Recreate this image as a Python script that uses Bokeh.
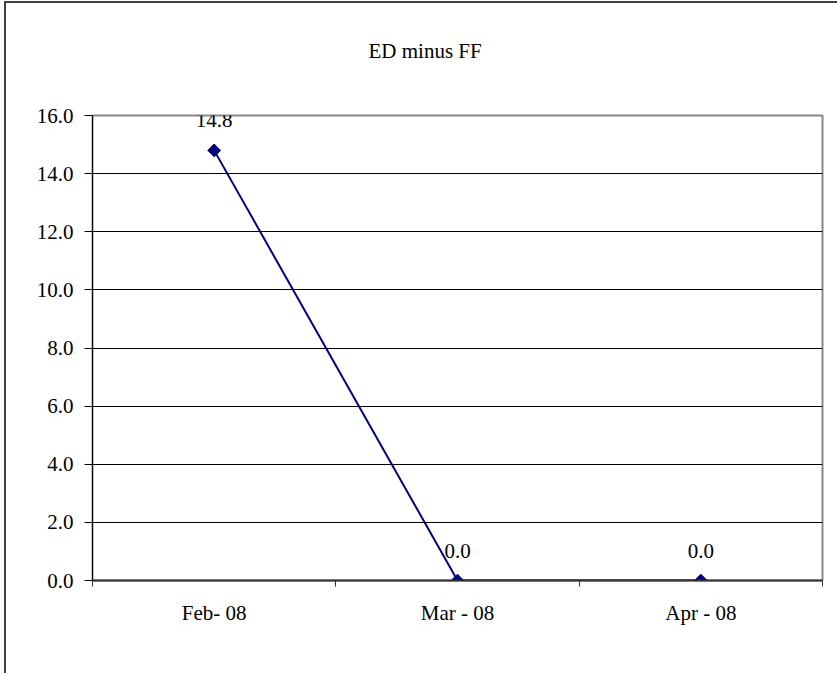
import math
from bokeh.plotting import figure
from bokeh.models import FixedTicker, ColumnDataSource, Range1d
from bokeh.core.properties import value
from bokeh.embed import file_html
from bokeh.resources import INLINE

title_text = "ED minus FF"
categories = ["Feb- 08", "Mar - 08", "Apr - 08"]
values = [14.8, 0.0, 0.0]
value_labels = ["14.8", "0.0", "0.0"]
y_ticks = [0, 2, 4, 6, 8, 10, 12, 14, 16]

FONT = "Liberation Serif"
FS = "21px"
xs = [i + 0.5 for i in range(len(categories))]

W, H = 833, 672
p = figure(width=W, height=H, output_backend="svg", toolbar_location=None,
           x_range=Range1d(0, len(categories)), y_range=Range1d(0, 16),
           min_border_left=88, min_border_top=114, min_border_right=W - 818,
           min_border_bottom=H - 579)
p.border_fill_color = None
p.background_fill_color = "#ffffff"
p.styles = {"margin-left": "4px", "margin-top": "1px",
            "box-shadow": "inset 2px 2px 0 0 #404040"}

# trailing blank lines lift the single visible title line higher above the frame
p.title.text = title_text + "\n\n"
p.title.align = "left"
p.title.offset = 276
p.title.vertical_align = "bottom"
p.title.standoff = 10
p.title.text_font = FONT
p.title.text_font_size = FS
p.title.text_font_style = "normal"
p.title.text_color = "#000000"

p.outline_line_color = "#888888"
p.outline_line_width = 2

# x axis
p.xaxis.ticker = FixedTicker(ticks=xs, minor_ticks=list(range(len(categories) + 1)))
p.xaxis.major_label_overrides = {x: c for x, c in zip(xs, categories)}
p.xaxis.major_tick_line_color = None
p.xaxis.major_tick_out = 0
p.xaxis.major_tick_in = 0
p.xaxis.minor_tick_line_color = "#333333"
p.xaxis.minor_tick_out = 6
p.xaxis.minor_tick_in = 0
p.xaxis.axis_line_color = "#333333"
p.xaxis.axis_line_width = 2
p.xaxis.major_label_standoff = 14
p.xaxis.major_label_text_font = FONT
p.xaxis.major_label_text_font_size = FS
p.xaxis.major_label_text_color = "#000000"

# y axis
p.yaxis.ticker = FixedTicker(ticks=y_ticks)
p.yaxis.major_label_overrides = {t: f"{t:.1f}" for t in y_ticks}
p.yaxis.minor_tick_line_color = None
p.yaxis.major_tick_out = 8
p.yaxis.major_tick_in = 0
p.yaxis.major_tick_line_color = "#000000"
p.yaxis.axis_line_color = "#000000"
p.yaxis.axis_line_width = 1
p.yaxis.major_label_standoff = 11
p.yaxis.major_label_text_font = FONT
p.yaxis.major_label_text_font_size = FS
p.yaxis.major_label_text_color = "#000000"

p.xgrid.visible = False
p.ygrid.ticker = FixedTicker(ticks=y_ticks[1:-1])
p.ygrid.grid_line_color = "#000000"
p.ygrid.grid_line_width = 1

src = ColumnDataSource(dict(x=xs, y=values, lab=value_labels))
p.line("x", "y", source=src, line_color="#000080", line_width=2)
p.scatter("x", "y", source=src, marker="square", angle=math.pi / 4, size=9,
          fill_color="#000080", line_color="#000080")
p.text("x", "y", text="lab", source=src, text_align="center", text_baseline="alphabetic",
       y_offset=-30, text_font=value(FONT), text_font_size=FS, text_color="#000000")

open("out.html", "w").write(file_html(p, INLINE))
